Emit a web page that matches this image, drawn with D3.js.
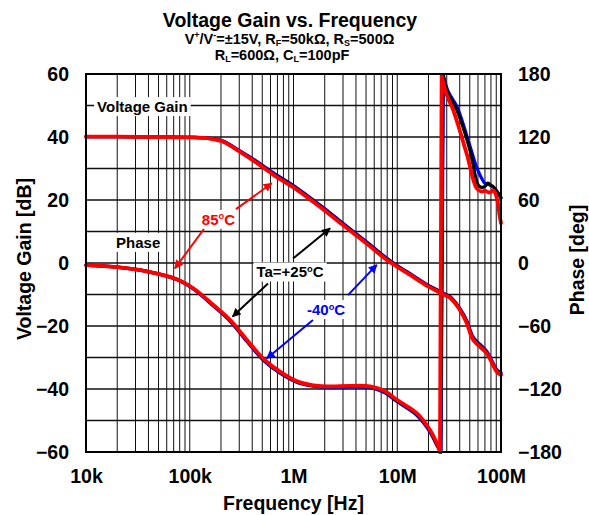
<!DOCTYPE html>
<html><head><meta charset="utf-8">
<script src="https://cdn.jsdelivr.net/npm/d3@7"></script>
<style>
body{margin:0;background:#fff}
svg text{font-family:"Liberation Sans",Arial,Helvetica,sans-serif;font-weight:bold}
</style>
</head><body>
<svg id="c" width="589" height="515"></svg>
<script>
// ---------- data ----------
const xTicks = [1e4, 1e5, 1e6, 1e7, 1e8];
const xTickLabels = ["10k", "100k", "1M", "10M", "100M"];
const gainTicks = [-60, -40, -20, 0, 20, 40, 60];
const phaseTicks = [-180, -120, -60, 0, 60, 120, 180];

const gainFreq = [1e4, 2e4, 5e4, 1e5, 1.57e5, 2.1e5, 3.05e5, 4.42e5, 6.4e5, 1e6, 1.34e6, 1.94e6, 2.8e6, 3.5e6, 5.5e6, 7.9e6, 1e7, 1.33e7, 2e7, 2.6e7, 2.88e7, 3.22e7, 3.6e7, 4.03e7, 4.67e7, 5.4e7, 7.28e7, 9.1e7, 1e8];
const gain85  = [40.1, 40.1, 40.0, 39.9, 39.5, 38.5, 35.3, 31.8, 28.0, 24.0, 21.0, 17.0, 12.8, 10.3, 5.2, 1.0, -1.2, -3.8, -7.5, -9.4, -10.2, -11.0, -12.7, -15.0, -19.0, -24.4, -28.7, -34.5, -35.6];
const gain25  = [40.1, 40.1, 40.0, 39.9, 39.5, 38.6, 35.4, 32.0, 28.3, 24.3, 21.3, 17.3, 13.1, 10.6, 5.5, 1.3, -1.0, -3.6, -7.3, -9.2, -10.0, -10.8, -12.5, -14.8, -18.6, -24.0, -28.4, -34.2, -35.2];
const gainM40 = [40.1, 40.1, 40.0, 39.9, 39.6, 38.7, 35.6, 32.3, 28.6, 24.6, 21.6, 17.6, 13.4, 10.9, 5.8, 1.6, -0.8, -3.4, -7.1, -9.0, -9.8, -10.6, -12.3, -14.5, -18.2, -23.5, -28.0, -33.8, -34.8];

const phaseFreqPre = [1e4, 2e4, 3.85e4, 7.5e4, 1.08e5, 1.69e5, 2.44e5, 3.54e5, 5.12e5, 7.41e5, 1.07e6, 1.55e6, 2.25e6, 3.5e6, 5.5e6, 7.6e6, 1e7, 1.54e7, 2.07e7, 2.4e7];

const phaseFreq85 = phaseFreqPre.concat([2.58e7, 2.68e7, 3.0e7, 3.45e7, 4.67e7, 5.83e7, 6.52e7, 7.0e7, 7.7e7, 8.5e7, 9.2e7, 9.7e7, 1e8]);
const phase85 = [-2, -4, -8, -15.5, -24, -40, -54, -73, -91, -103.5, -112.5, -116.5, -117.5, -117, -117.5, -122, -130.5, -143, -159, -171.5,
                 -180, 178, 160, 146, 104, 71, 68, 69, 67, 69, 60, 45, 38];

const phaseFreq25 = phaseFreqPre.concat([2.62e7, 2.76e7, 3.05e7, 3.74e7, 5.02e7, 6.04e7, 6.5e7, 7.0e7, 7.5e7, 8.0e7, 8.4e7, 1e8]);
const phase25 = [-2, -4, -8, -15.5, -24.3, -40.5, -54.6, -73.7, -91.8, -104.2, -113, -116.8, -117.8, -117.5, -118.1, -122.8, -131.3, -144, -160, -172.5,
                 -180, 179, 163, 146, 107.6, 74, 72, 73, 76, 74, 72.7, 62];

const phaseFreqM40 = phaseFreqPre.concat([2.64e7, 2.78e7, 3.08e7, 3.8e7, 5.0e7, 6.0e7, 7.0e7, 7.5e7, 8.5e7, 9.5e7, 1e8]);
const phaseM40 = [-2, -4, -8, -15.8, -24.7, -41, -55.3, -74.6, -92.6, -105, -113.5, -117.3, -118.3, -118.1, -118.7, -123.6, -132.2, -145, -161, -173.5,
                  -180, 179, 164, 148, 112, 88, 76, 75, 72, 66, 62];

const seriesNames = ["-40ºC", "+25ºC", "85ºC"];
const seriesColors = ["#0000ff", "#000000", "#ff0000"];

// ---------- layout ----------
const svg = d3.select("#c");
const W = 589, H = 515;
const m = {l: 86, r: 88, t: 74, b: 63};
const x = d3.scaleLog().domain([1e4, 1e8]).range([m.l, W - m.r]);
const yG = d3.scaleLinear().domain([-60, 60]).range([H - m.b, m.t]);
const yP = d3.scaleLinear().domain([-180, 180]).range([H - m.b, m.t]);
const FS = 19.5;

svg.append("rect").attr("width", W).attr("height", H).attr("fill", "#fff");

// grid
const grid = svg.append("g");
const minor = [];
for (let e = 4; e < 8; e++) for (let k = 1; k <= 9; k++) { const v = k * Math.pow(10, e); if (v > 1e4) minor.push(v); }
grid.selectAll("line.v").data(minor).join("line")
  .attr("x1", d => x(d)).attr("x2", d => x(d))
  .attr("y1", yG(-60)).attr("y2", yG(60))
  .attr("stroke", "#111").attr("stroke-width", 1);
grid.selectAll("line.h").data(d3.range(-50, 60, 10)).join("line")
  .attr("x1", x(1e4)).attr("x2", x(1e8))
  .attr("y1", d => yG(d)).attr("y2", d => yG(d))
  .attr("stroke", "#111").attr("stroke-width", 1.3);

// curves
const smooth = d3.curveCatmullRom.alpha(0.5);
const lineG = d3.line().x(d => x(d[0])).y(d => yG(d[1])).curve(smooth);
const lineP = d3.line().x(d => x(d[0])).y(d => yP(d[1])).curve(smooth);
const lineStraight = d3.line().x(d => x(d[0])).y(d => yP(d[1]));

const gainSets = [gainM40, gain25, gain85];
const phaseSets = [[phaseFreqM40, phaseM40], [phaseFreq25, phase25], [phaseFreq85, phase85]];
const widths = [3.2, 3.2, 3.8];

const curves = svg.append("g").attr("fill", "none").attr("stroke-linejoin", "round").attr("stroke-linecap", "round");
for (let i = 0; i < 3; i++) {
  const g = gainFreq.map((f, j) => [f, gainSets[i][j]]);
  curves.append("path").attr("d", lineG(g)).attr("stroke", seriesColors[i]).attr("stroke-width", widths[i]);
  const [pf, pv] = phaseSets[i];
  const pts = pf.map((f, j) => [f, pv[j]]);
  const cut = pts.findIndex((p, j) => j > 0 && p[1] - pts[j - 1][1] > 180);
  const pre = pts.slice(0, cut), post = pts.slice(cut);
  curves.append("path").attr("d", lineP(pre)).attr("stroke", seriesColors[i]).attr("stroke-width", widths[i]);
  curves.append("path").attr("d", lineStraight([pre[pre.length - 1], post[0]])).attr("stroke", seriesColors[i]).attr("stroke-width", widths[i]);
  curves.append("path").attr("d", lineP(post)).attr("stroke", seriesColors[i]).attr("stroke-width", widths[i]);
}

// border
svg.append("rect").attr("x", x(1e4)).attr("y", yG(60))
  .attr("width", x(1e8) - x(1e4)).attr("height", yG(-60) - yG(60))
  .attr("fill", "none").attr("stroke", "#000").attr("stroke-width", 2);

// axes
function styleAxis(g) {
  g.select(".domain").remove();
  g.selectAll("text").attr("font-size", FS).attr("fill", "#000")
    .style("font-family", '"Liberation Sans",Arial,sans-serif').style("font-weight", "bold");
}
svg.append("g").attr("transform", `translate(${m.l},0)`)
  .call(d3.axisLeft(yG).tickValues(gainTicks).tickSize(0).tickPadding(17).tickFormat(d3.format("d")))
  .call(styleAxis);
svg.append("g").attr("transform", `translate(${W - m.r},0)`)
  .call(d3.axisRight(yP).tickValues(phaseTicks).tickSize(0).tickPadding(17).tickFormat(d3.format("d")))
  .call(styleAxis);
svg.append("g").attr("transform", `translate(0,${H - m.b})`)
  .call(d3.axisBottom(x).tickValues(xTicks).tickSize(0).tickPadding(17).tickFormat((d, i) => xTickLabels[i]))
  .call(styleAxis);

// axis titles
svg.append("text").attr("transform", `translate(31,${(yG(60) + yG(-60)) / 2 - 4}) rotate(-90)`)
  .attr("text-anchor", "middle").attr("font-size", FS).text("Voltage Gain [dB]");
svg.append("text").attr("transform", `translate(584,${(yG(60) + yG(-60)) / 2 - 3}) rotate(-90)`)
  .attr("text-anchor", "middle").attr("font-size", FS).text("Phase [deg]");
svg.append("text").attr("x", (x(1e4) + x(1e8)) / 2).attr("y", 510)
  .attr("text-anchor", "middle").attr("font-size", FS).text("Frequency [Hz]");

// rich text helper (superscript / subscript via dy offsets)
function rich(sel, parts, size) {
  let shift = 0;
  parts.forEach(([t, kind]) => {
    const target = kind === "sup" ? -size * 0.36 : kind === "sub" ? size * 0.16 : 0;
    const ts = sel.append("tspan").attr("dy", target - shift).text(t);
    if (kind) ts.attr("font-size", size * 0.62);
    shift = target;
  });
  return sel;
}

// title
svg.append("text").attr("x", 290).attr("y", 27).attr("text-anchor", "middle").attr("font-size", FS).text("Voltage Gain vs. Frequency");
rich(svg.append("text").attr("x", 289.5).attr("y", 43.5).attr("text-anchor", "middle").attr("font-size", 14.5),
  [["V"], ["+", "sup"], ["/V"], ["-", "sup"], ["=±15V, R"], ["F", "sub"], ["=50kΩ, R"], ["S", "sub"], ["=500Ω"]], 14.5);
rich(svg.append("text").attr("x", 282).attr("y", 60).attr("text-anchor", "middle").attr("font-size", 14.5),
  [["R"], ["L", "sub"], ["=600Ω, C"], ["L", "sub"], ["=100pF"]], 14.5);

// annotations (positions in data units: [freq, dB])
const labels = [
  {pos: [1.28e4, 47.9], anchor: "start", color: "#000", parts: [["Voltage Gain"]]},
  {pos: [1.95e4, 4.8], anchor: "start", color: "#000", parts: [["Phase"]]},
  {pos: [1.89e5, 12.1], anchor: "middle", color: "#ff0000", parts: [["85"], ["o", "sup"], ["C"]]},
  {pos: [9.25e5, -4.6], anchor: "middle", color: "#000", parts: [["Ta=+25"], ["o", "sup"], ["C"]]},
  {pos: [2.06e6, -16.5], anchor: "middle", color: "#0000ff", parts: [["-40"], ["o", "sup"], ["C"]]}
];
const arrows = [
  {from: [2.79e5, 17.1], to: [6.17e5, 25.3], color: "#ff0000"},
  {from: [1.37e5, 10.8], to: [7.2e4, -1.7], color: "#ff0000"},
  {from: [9.89e5, 1.4], to: [2.25e6, 11.0], color: "#000000"},
  {from: [5.68e5, -6.5], to: [2.59e5, -17.0], color: "#000000"},
  {from: [3.35e6, -10.2], to: [6.34e6, -0.6], color: "#0000ff"},
  {from: [1.54e6, -18.1], to: [5.52e5, -30.3], color: "#0000ff"}
];

const defs = svg.append("defs");
["#ff0000", "#000000", "#0000ff"].forEach((c, i) => {
  defs.append("marker").attr("id", "ah" + i).attr("viewBox", "0 0 10 10")
    .attr("refX", 9).attr("refY", 5).attr("markerWidth", 4.8).attr("markerHeight", 4.4)
    .attr("markerUnits", "strokeWidth").attr("orient", "auto")
    .append("path").attr("d", "M0,0 L10,5 L0,10 Z").attr("fill", c);
});
const colorIdx = {"#ff0000": 0, "#000000": 1, "#0000ff": 2};

const ann = svg.append("g");
labels.forEach(l => {
  const g = ann.append("g");
  const rect = g.append("rect").attr("fill", "#fff");
  const t = g.append("text").attr("x", x(l.pos[0])).attr("y", yG(l.pos[1]))
    .attr("text-anchor", l.anchor).attr("font-size", 15).attr("fill", l.color);
  rich(t, l.parts, 15);
  const b = t.node().getBBox();
  rect.attr("x", b.x - 3).attr("y", b.y - 1).attr("width", b.width + 6).attr("height", b.height + 2);
});
arrows.forEach(a => {
  ann.append("line")
    .attr("x1", x(a.from[0])).attr("y1", yG(a.from[1]))
    .attr("x2", x(a.to[0])).attr("y2", yG(a.to[1]))
    .attr("stroke", a.color).attr("stroke-width", 2)
    .attr("marker-end", `url(#ah${colorIdx[a.color]})`);
});
</script>
</body></html>
